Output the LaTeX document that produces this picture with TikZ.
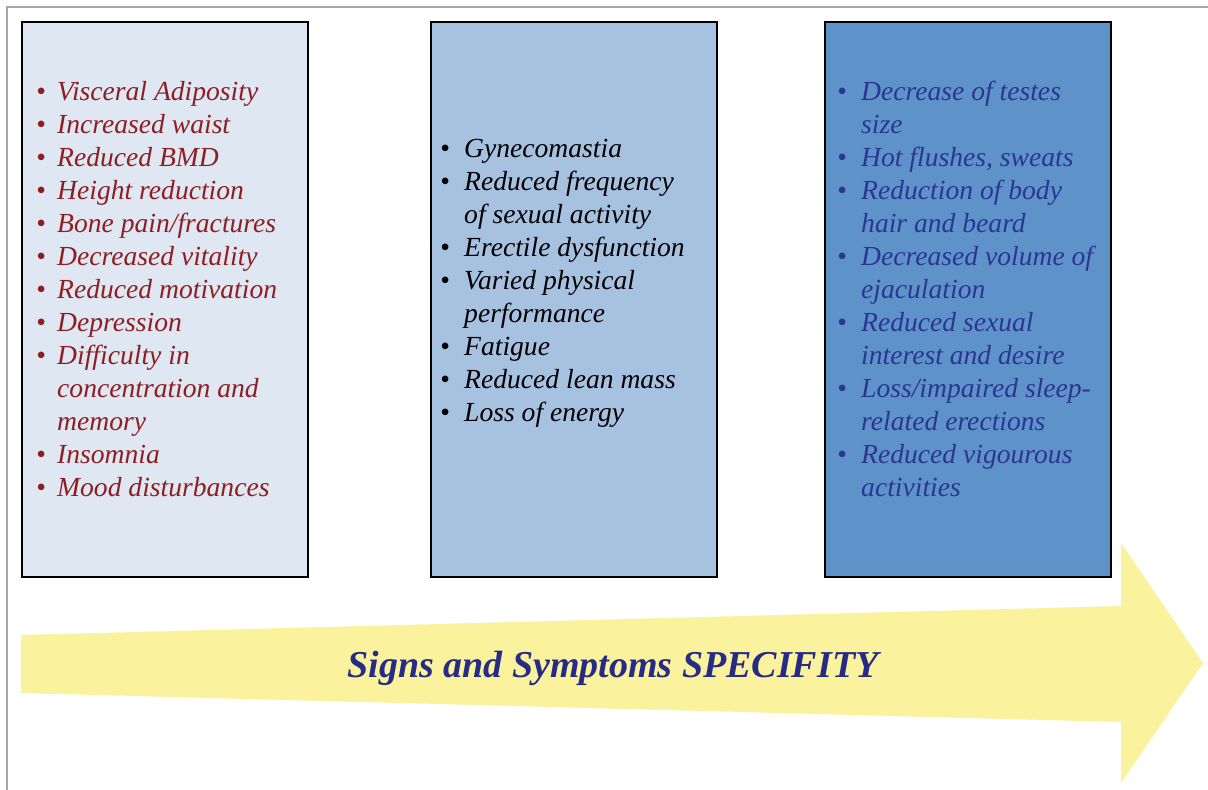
\documentclass[tikz,border=0pt]{standalone}
\usepackage{fontspec}
\setmainfont{Liberation Serif}
\definecolor{frameGray}{HTML}{A6A6A6}
\definecolor{paleBlue}{HTML}{DEE7F2}
\definecolor{midBlue}{HTML}{A7C1E0}
\definecolor{deepBlue}{HTML}{5E93C9}
\definecolor{arrowYellow}{HTML}{FAF29C}
\definecolor{listRed}{HTML}{8E1E22}
\definecolor{listNavy}{HTML}{2C3592}
\definecolor{titleNavy}{HTML}{262B86}
\newcommand{\bul}[1]{\makebox[#1][l]{•}}
\tikzset{
  panel/.style={draw=black, line width=2.4pt, minimum width=286pt, minimum height=555pt, inner sep=0pt, anchor=north west},
  listtext/.style={anchor=base west, inner sep=0pt, font=\fontsize{27.6}{33}\selectfont\itshape},
  titletext/.style={anchor=base, inner sep=0pt, font=\fontsize{38}{44}\selectfont\bfseries\itshape, text=titleNavy}
}
\begin{document}
\begin{tikzpicture}[x=1pt, y=-1pt]
\useasboundingbox (0,0) rectangle (1208,790);
\fill[white] (0,0) rectangle (1208,790);
% outer frame (top and left edges)
\draw[frameGray, line width=1.5pt] (7,790) -- (7,7) -- (1208,7);

% the three panels
\node[panel, fill=paleBlue] (p1) at (21,21) {};
\node[panel, fill=midBlue]  (p2) at (430,21) {};
\node[panel, fill=deepBlue] (p3) at (824,21) {};

% panel lists
\node[listtext, text=listRed] (l1) at (36,100) {\renewcommand\arraystretch{1}%
\begin{tabular}[t]{@{}l@{}l@{}}
\bul{21pt} & Visceral Adiposity\\
\bul{21pt} & Increased waist\\
\bul{21pt} & Reduced BMD\\
\bul{21pt} & Height reduction\\
\bul{21pt} & Bone pain/fractures\\
\bul{21pt} & Decreased vitality\\
\bul{21pt} & Reduced motivation\\
\bul{21pt} & Depression\\
\bul{21pt} & Difficulty in\\
 & concentration and\\
 & memory\\
\bul{21pt} & Insomnia\\
\bul{21pt} & Mood disturbances
\end{tabular}};

\node[listtext, text=black] (l2) at (440,157) {\renewcommand\arraystretch{1}%
\begin{tabular}[t]{@{}l@{}l@{}}
\bul{24pt} & Gynecomastia\\
\bul{24pt} & Reduced frequency\\
 & of sexual activity\\
\bul{24pt} & Erectile dysfunction\\
\bul{24pt} & Varied physical\\
 & performance\\
\bul{24pt} & Fatigue\\
\bul{24pt} & Reduced lean mass\\
\bul{24pt} & Loss of energy
\end{tabular}};

\node[listtext, text=listNavy] (l3) at (837,100) {\renewcommand\arraystretch{1}%
\begin{tabular}[t]{@{}l@{}l@{}}
\bul{24pt} & Decrease of testes\\
 & size\\
\bul{24pt} & Hot flushes, sweats\\
\bul{24pt} & Reduction of body\\
 & hair and beard\\
\bul{24pt} & Decreased volume of\\
 & ejaculation\\
\bul{24pt} & Reduced sexual\\
 & interest and desire\\
\bul{24pt} & Loss/impaired sleep-\\
 & related erections\\
\bul{24pt} & Reduced vigourous\\
 & activities
\end{tabular}};

% widening arrow along the bottom
\fill[arrowYellow] (21,635) -- (1121,606) -- (1121,543) -- (1203,663)
  -- (1121,783) -- (1121,722) -- (21,693) -- cycle;
\node[titletext] (title) at (613,677) {Signs and Symptoms SPECIFITY};
\end{tikzpicture}
\end{document}
